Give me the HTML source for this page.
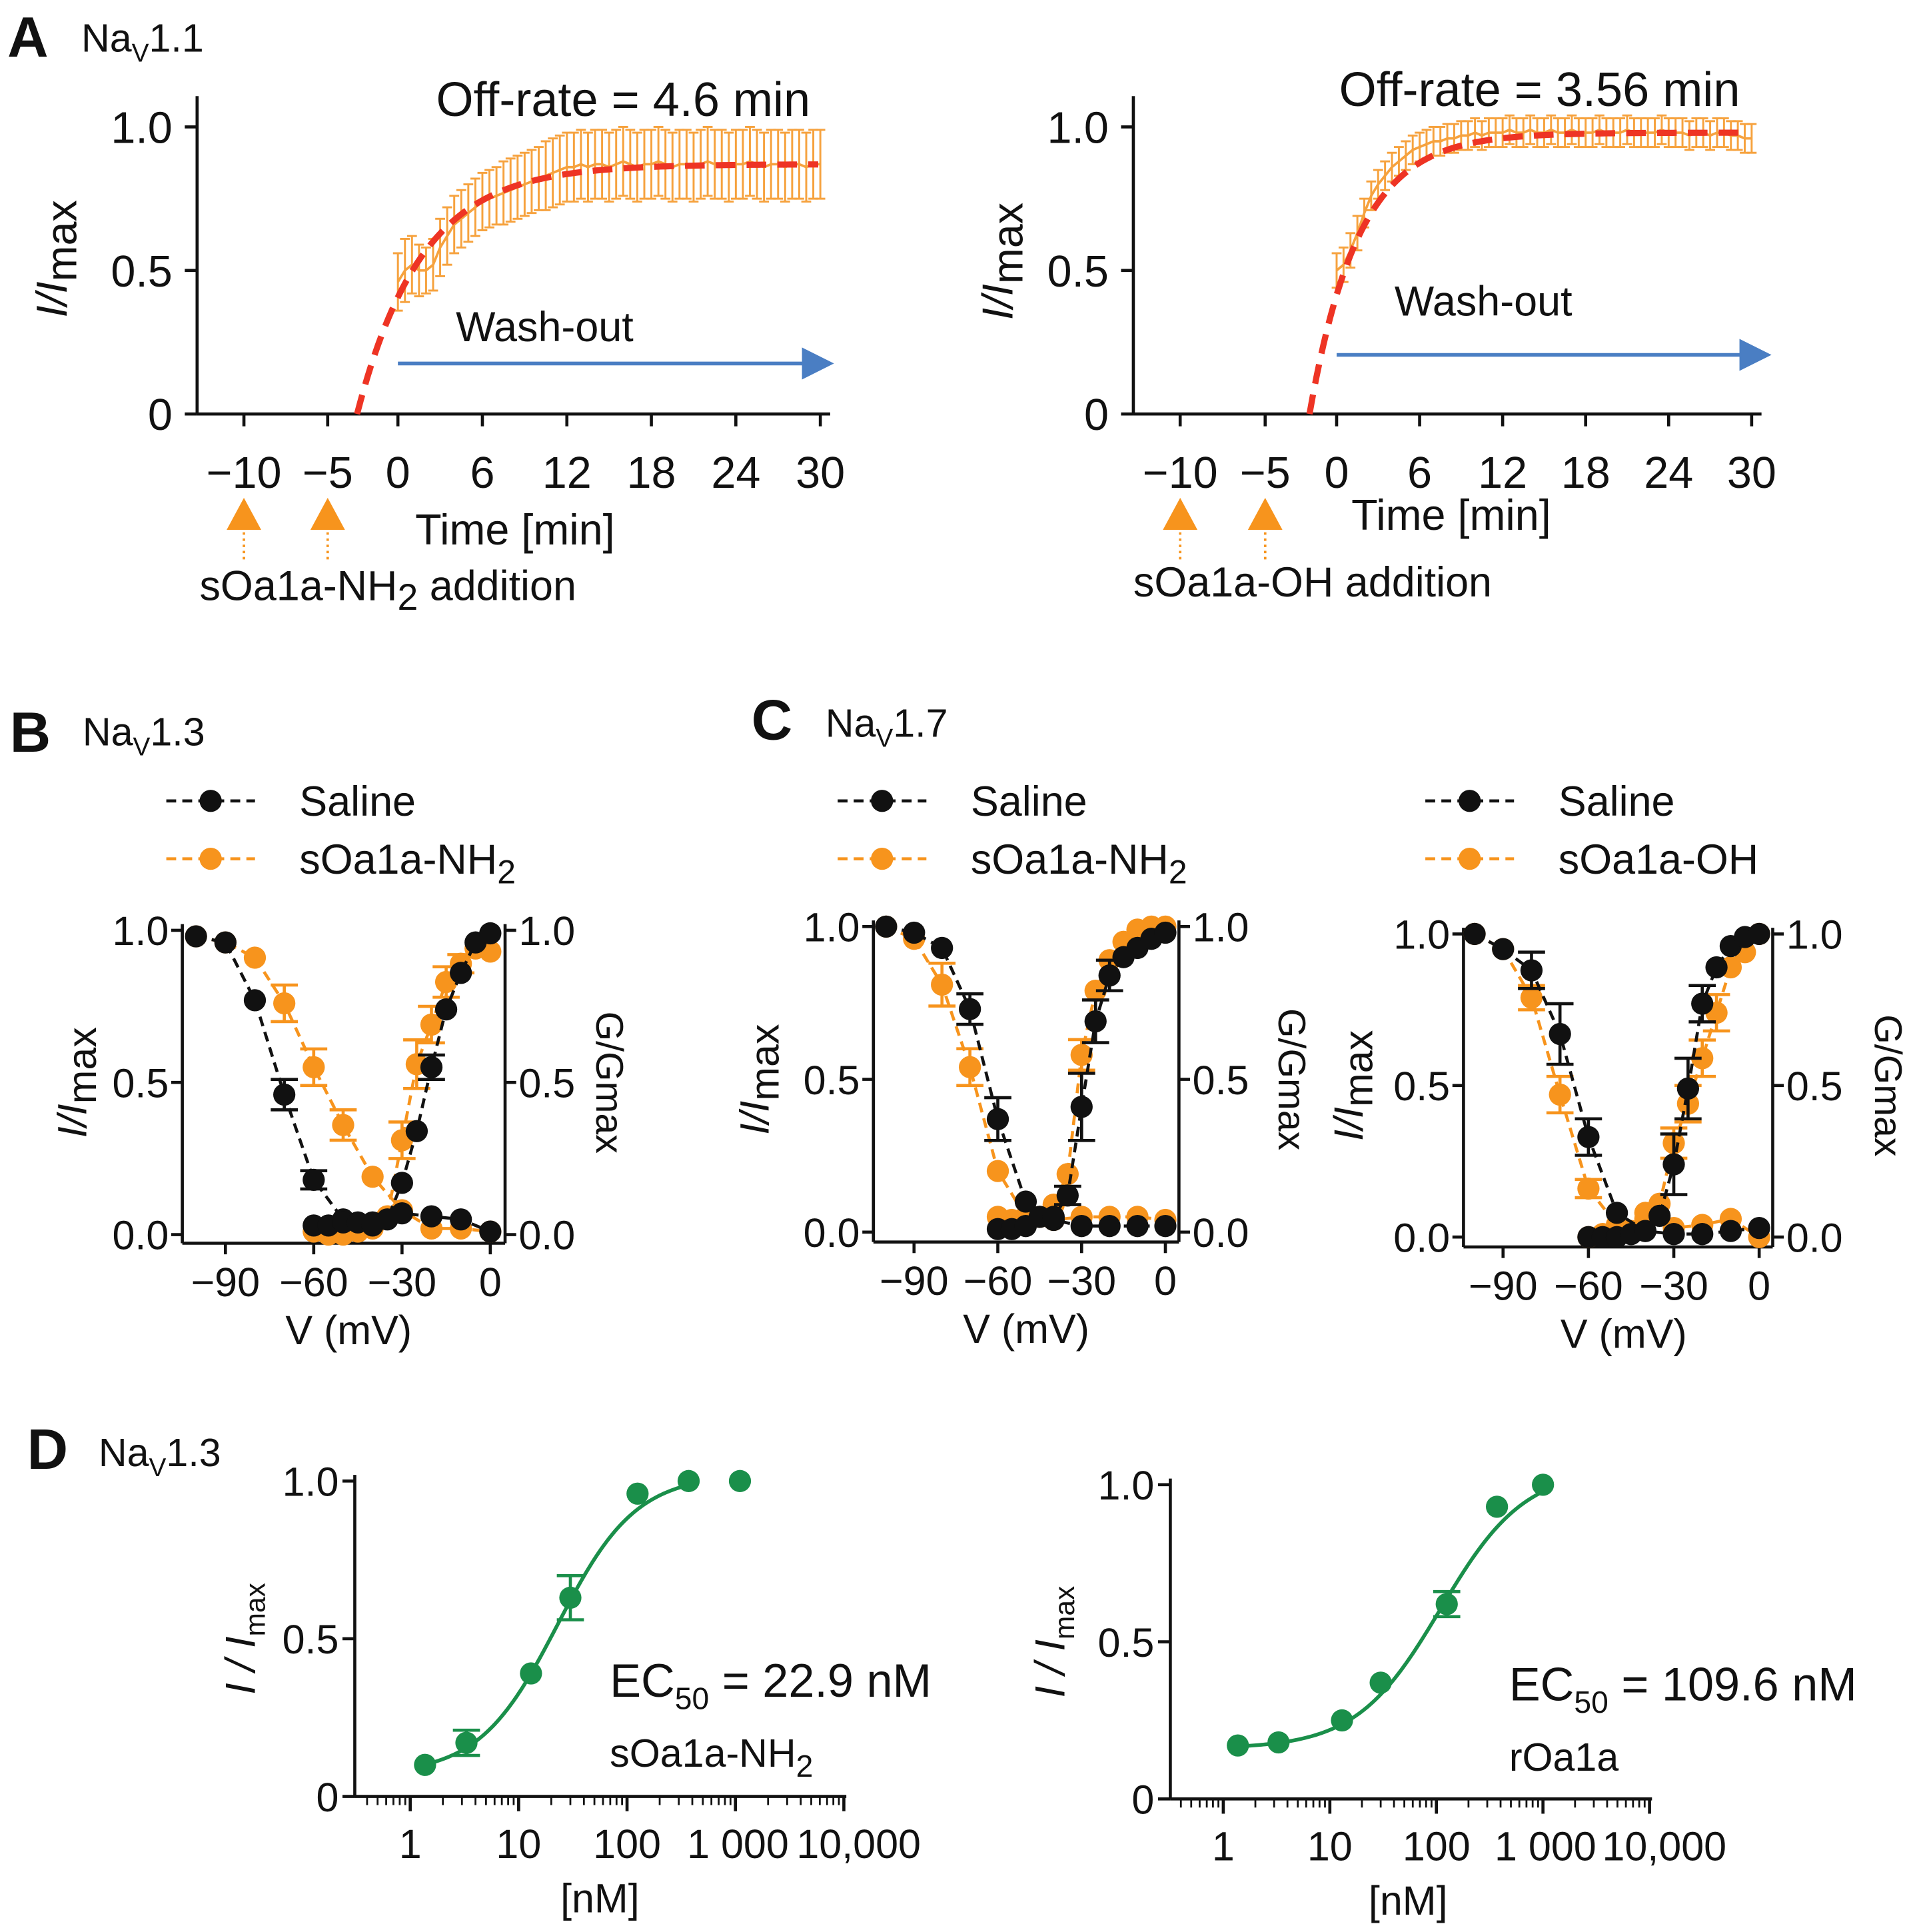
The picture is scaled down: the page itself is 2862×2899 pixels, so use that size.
<!DOCTYPE html>
<html><head><meta charset="utf-8"><style>
html,body{margin:0;padding:0;background:#fff;}
svg{display:block;font-family:"Liberation Sans",Arial,sans-serif;}
</style></head><body>
<svg id="fig" xmlns="http://www.w3.org/2000/svg" width="2862" height="2899" viewBox="0 0 1548 1568">
<rect x="0" y="0" width="1548" height="1568" fill="#fff"/>
</svg>
<script>
// ---------- Panel A data ----------
const aLeftMeans = [0.46,0.50,0.52,0.50,0.50,0.52,0.58,0.62,0.66,0.68,0.70,0.72,0.74,0.75,0.76,0.77,0.78,0.79,0.80,0.81,0.82,0.83,0.84,0.85,0.86,0.86,0.87,0.86,0.87,0.87,0.86,0.87,0.88,0.87,0.86,0.87,0.87,0.88,0.87,0.86,0.87,0.87,0.86,0.87,0.88,0.87,0.87,0.86,0.87,0.87,0.88,0.87,0.86,0.87,0.87,0.86,0.87,0.87,0.86,0.87,0.87];
const aLeftErr = [0.10,0.11,0.10,0.09,0.08,0.09,0.10,0.10,0.10,0.10,0.10,0.10,0.10,0.10,0.10,0.11,0.11,0.11,0.11,0.11,0.11,0.12,0.12,0.12,0.12,0.12,0.12,0.12,0.12,0.12,0.12,0.12,0.12,0.12,0.12,0.12,0.12,0.12,0.12,0.12,0.12,0.12,0.12,0.12,0.12,0.12,0.12,0.12,0.12,0.12,0.12,0.12,0.12,0.12,0.12,0.12,0.12,0.12,0.12,0.12,0.12];
const aRightMeans = [0.50,0.52,0.57,0.63,0.70,0.76,0.80,0.83,0.86,0.88,0.90,0.92,0.93,0.94,0.95,0.95,0.96,0.96,0.97,0.97,0.98,0.97,0.98,0.98,0.98,0.99,0.98,0.98,0.99,0.98,0.98,0.99,0.98,0.98,0.99,0.98,0.98,0.98,0.99,0.98,0.98,0.98,0.99,0.98,0.98,0.98,0.98,0.99,0.98,0.98,0.98,0.97,0.98,0.98,0.97,0.98,0.98,0.97,0.97,0.96,0.96];
const aRightErr = [0.06,0.06,0.06,0.06,0.05,0.05,0.05,0.05,0.05,0.05,0.05,0.05,0.05,0.05,0.05,0.05,0.05,0.05,0.05,0.05,0.05,0.05,0.05,0.05,0.05,0.05,0.05,0.05,0.05,0.05,0.05,0.05,0.05,0.05,0.05,0.05,0.05,0.05,0.05,0.05,0.05,0.05,0.05,0.05,0.05,0.05,0.05,0.05,0.05,0.05,0.05,0.05,0.05,0.05,0.05,0.05,0.05,0.05,0.05,0.05,0.05];
const aTimeTicks = [0,6,12,18,24,30];
const aPreTicks = [-10,-5];
const aLeftTau = 4.6, aLeftPlateau = 0.87, aLeftStart = -2.9;
const aRightTau = 3.56, aRightPlateau = 0.98, aRightStart = -1.96;

// ---------- Panels B/C data ----------
const vInact = [-100,-90,-80,-70,-60,-50,-40,-30,-20,-10,0];
const vAct = [-60,-55,-50,-45,-40,-35,-30,-25,-20,-15,-10,-5,0];
const vTicks = [-90,-60,-30,0];
const yTicksIV = [0,0.5,1];
const bBlackInact = [0.98,0.96,0.77,0.46,0.18,0.05,0.04,0.07,0.06,0.05,0.01];
const bBlackInactErr = [0,0,0,0.05,0.03,0,0,0,0,0,0];
const bBlackAct = [0.03,0.03,0.04,0.04,0.03,0.05,0.17,0.34,0.55,0.74,0.86,0.96,0.99];
const bBlackActErr = [0,0,0,0,0,0,0,0,0.04,0,0,0,0];
const bOrInact = [0.98,0.96,0.91,0.76,0.55,0.36,0.19,0.08,0.02,0.02,0.01];
const bOrInactErr = [0,0,0,0.06,0.06,0.05,0,0,0,0,0];
const bOrAct = [0.01,0,0,0.01,0.02,0.06,0.31,0.56,0.69,0.83,0.89,0.94,0.93];
const bOrActErr = [0,0,0,0,0,0,0.06,0.08,0.06,0.05,0.03,0,0];
const cBlackInact = [1.0,0.98,0.93,0.73,0.37,0.10,0.04,0.02,0.02,0.02,0.02];
const cBlackInactErr = [0,0,0,0.05,0.07,0,0,0,0,0,0];
const cBlackAct = [0.01,0.01,0.02,0.05,0.05,0.12,0.41,0.69,0.84,0.90,0.93,0.96,0.98];
const cBlackActErr = [0,0,0,0,0,0.03,0.11,0.07,0.05,0,0,0,0];
const cOrInact = [1.0,0.96,0.81,0.54,0.20,0.05,0.04,0.05,0.05,0.05,0.04];
const cOrInactErr = [0,0,0.07,0.06,0,0,0,0,0,0,0];
const cOrAct = [0.05,0.04,0.04,0.05,0.09,0.19,0.58,0.79,0.89,0.95,0.99,1.0,1.0];
const cOrActErr = [0,0,0,0,0,0,0.05,0,0,0,0,0,0];
const c2BlackInact = [1.0,0.95,0.88,0.67,0.33,0.08,0.02,0.01,0.01,0.02,0.03];
const c2BlackInactErr = [0,0,0.06,0.10,0.06,0,0,0,0,0,0];
const c2BlackAct = [0,0,0,0.01,0.02,0.07,0.24,0.49,0.77,0.89,0.96,0.99,1.0];
const c2BlackActErr = [0,0,0,0,0,0,0.10,0.10,0.06,0,0,0,0];
const c2OrInact = [1.0,0.95,0.79,0.47,0.16,0.04,0.06,0.03,0.04,0.06,0.0];
const c2OrInactErr = [0,0,0.04,0.06,0.03,0,0,0,0,0,0];
const c2OrAct = [0,0.01,0.01,0.02,0.08,0.11,0.31,0.44,0.59,0.74,0.89,0.94,1.0];
const c2OrActErr = [0,0,0,0,0,0,0.05,0.06,0.06,0.06,0,0,0];

// ---------- Panel D data ----------
const dConc = [1.37,3.3,13,30,125,370,1100];
const dLeftVals = [0.10,0.17,0.39,0.63,0.96,1.0,1.0];
const dLeftErr = [0,0.04,0,0.07,0,0,0];
const dConcR = [1.37,3.3,13,30,125,370,1000];
const dRightVals = [0.17,0.18,0.25,0.37,0.62,0.93,1.0];
const dRightErr = [0,0,0,0,0.04,0,0];
const dXTicks = [1,10,100,1000,10000];
const dXTickLabels = ["1","10","100","1 000","10,000"];
const dYTicks = [0,0.5,1];
const dYTickLabels = ["0","0.5","1.0"];
const dLeftFit = {ec50:22.9, bottom:0.07, top:1.02, hill:1.2};
const dRightFit = {ec50:109.6, bottom:0.16, top:1.05, hill:1.1};

const NS = 'http://www.w3.org/2000/svg';
const svg = document.getElementById('fig');
function mk(tag, attrs, parent){
  const e = document.createElementNS(NS, tag);
  for (const k in attrs) e.setAttribute(k, attrs[k]);
  (parent || svg).appendChild(e);
  return e;
}
function grp(name){
  const g = mk('g', {});
  
  
  return g;
}
function txt(g, x, y, s, size, anchor, extra){
  const t = mk('text', Object.assign({x:x, y:y, 'font-size':size, 'text-anchor':anchor||'start', fill:'#111'}, extra||{}), g);
  t.textContent = s;
  return t;
}
function sub(t, s, dy, size){
  const ts = mk('tspan', {dy:dy, 'font-size':size}, t);
  ts.textContent = s;
  return ts;
}
function fmtTick(v){ return v===0 ? '0.0' : v.toFixed(1); }

// ---------- Panel labels ----------
function panelLabel(letter, x, y, nameSuffix, nx, ny, sizeL){
  const g = grp('panel-' + letter.toLowerCase() + '-label');
  txt(g, x, y, letter, sizeL || 46, 'start', {'font-weight':'bold'});
  const t = txt(g, nx, ny, 'Na', 32);
  
  
  sub(t, 'V', 8, 21);
  sub(t, nameSuffix, -8, 32);
}
panelLabel('A', 6, 46, '1.1', 66, 42);
panelLabel('B', 8, 610, '1.3', 67, 605);
panelLabel('C', 610, 600, '1.7', 670, 598);
panelLabel('D', 22, 1192, '1.3', 80, 1190);

// ---------- Panel A ----------
function drawA(cfg){
  const g = grp(cfg.name);
  const xM = t => cfg.x0 + t * cfg.s;
  const xPre = t => cfg.xm10 + (t + 10) * cfg.sp;
  const yM = v => cfg.yB - v * (cfg.yB - cfg.yT);
  const ax = mk('line', {x1:cfg.axX, y1:cfg.yT-25, x2:cfg.axX, y2:cfg.yB, stroke:'#111','stroke-width':2.5}, g);
  
  
  const xa = mk('line', {x1:cfg.axX, y1:cfg.yB, x2:xM(30)+8, y2:cfg.yB, stroke:'#111','stroke-width':2.5}, g);
  
  
  [[0,'0'],[0.5,'0.5'],[1,'1.0']].forEach(p=>{
    mk('line', {x1:cfg.axX-10, y1:yM(p[0]), x2:cfg.axX, y2:yM(p[0]), stroke:'#111','stroke-width':2.5}, g);
    const t = txt(g, cfg.axX-20, yM(p[0])+13, p[1], 36, 'end');
    
    
  });
  aPreTicks.forEach(v=>{
    mk('line', {x1:xPre(v), y1:cfg.yB, x2:xPre(v), y2:cfg.yB+10, stroke:'#111','stroke-width':2.5}, g);
    const t = txt(g, xPre(v), cfg.yB+60, '\u2212' + Math.abs(v), 36, 'middle');
    
    
  });
  aTimeTicks.forEach(v=>{
    mk('line', {x1:xM(v), y1:cfg.yB, x2:xM(v), y2:cfg.yB+10, stroke:'#111','stroke-width':2.5}, g);
    const t = txt(g, xM(v), cfg.yB+60, String(v), 36, 'middle');
    
    
  });
  const yl = txt(g, 0, 0, 'I/I', 35, 'middle', {transform:'translate(' + cfg.ylX + ',' + cfg.ylY + ') rotate(-90)', 'font-style':'italic'});
  
  
  sub(yl, 'max', 8, 35).setAttribute('font-style','normal');
  const xl = txt(g, cfg.xlX, cfg.xlY, 'Time [min]', 35, 'middle');
  
  
  const eg = mk('g', {stroke:'#F6A23E','stroke-width':1.6}, g);
  
  
  cfg.means.forEach((m,i)=>{
    const t = i * 0.5, x = xM(t), e = cfg.err[i];
    mk('line', {x1:x, y1:yM(m+e), x2:x, y2:yM(m-e)}, eg);
    mk('line', {x1:x-4, y1:yM(m+e), x2:x+4, y2:yM(m+e)}, eg);
    mk('line', {x1:x-4, y1:yM(m-e), x2:x+4, y2:yM(m-e)}, eg);
  });
  const ml = cfg.means.map((m,i)=>xM(i*0.5)+','+yM(m)).join(' ');
  const mp = mk('polyline', {points:ml, fill:'none', stroke:'#F6A23E','stroke-width':2}, g);
  
  
  const pts = [];
  for (let t = cfg.start; t <= 30.0001; t += 0.25){
    const v = cfg.plateau * (1 - Math.exp(-(t - cfg.start) / cfg.tau));
    pts.push(xM(t) + ',' + yM(v));
  }
  const fit = mk('polyline', {points:pts.join(' '), fill:'none', stroke:'#EE3424','stroke-width':5,'stroke-dasharray':'16 9'}, g);
  
  
  const ti = txt(g, cfg.titleX, cfg.titleY, cfg.title, 39, 'start');
  
  
  const ar = mk('line', {x1:xM(0), y1:cfg.arY, x2:cfg.arEnd-22, y2:cfg.arY, stroke:'#4A7EC3','stroke-width':3}, g);
  
  
  mk('polygon', {points:(cfg.arEnd-26)+','+(cfg.arY-13)+' '+cfg.arEnd+','+cfg.arY+' '+(cfg.arEnd-26)+','+(cfg.arY+13), fill:'#4A7EC3'}, g);
  const wl = txt(g, cfg.woX, cfg.woY, 'Wash-out', 34, 'start');
  
  
  aPreTicks.forEach(v=>{
    const x = xPre(v);
    const tri = mk('polygon', {points:(x-14)+','+(cfg.yB+94)+' '+x+','+(cfg.yB+68)+' '+(x+14)+','+(cfg.yB+94), fill:'#F7941D'}, g);
    
    
    mk('line', {x1:x, y1:cfg.yB+96, x2:x, y2:cfg.yB+120, stroke:'#F7941D','stroke-width':2,'stroke-dasharray':'2 3'}, g);
  });
  const al = txt(g, cfg.addX, cfg.addY, cfg.addText, 34, 'start');
  
  
  if (cfg.addSub){ sub(al, '2', 8, 30); sub(al, '\u00a0addition', -8, 34); }
}
drawA({name:'panel-a-left-chart', x0:323, s:11.43, xm10:198, sp:13.6, yT:103, yB:336, axX:160,
  means:aLeftMeans, err:aLeftErr, tau:aLeftTau, plateau:aLeftPlateau, start:aLeftStart,
  ylX:54, ylY:210, xlX:418, xlY:442, title:'Off-rate = 4.6 min', titleX:354, titleY:94,
  arY:295, arEnd:677, woX:370, woY:277, addX:162, addY:487, addText:'sOa1a-NH', addSub:true});
drawA({name:'panel-a-right-chart', x0:1085, s:11.23, xm10:958, sp:13.8, yT:103, yB:336, axX:920,
  means:aRightMeans, err:aRightErr, tau:aRightTau, plateau:aRightPlateau, start:aRightStart,
  ylX:822, ylY:212, xlX:1178, xlY:430, title:'Off-rate = 3.56 min', titleX:1087, titleY:86,
  arY:288, arEnd:1438, woX:1132, woY:256, addX:920, addY:484, addText:'sOa1a-OH addition', addSub:false});

// ---------- Panels B/C ----------
const BLK = '#111', ORG = '#F7941D';
function legend(x, y, label, isNH2){
  const g = grp('legend');
  [[0, BLK, 'Saline'], [47, ORG, label]].forEach((r,i)=>{
    const e = mk('g', {}, g);
    
    
    mk('line', {x1:x, y1:y+r[0], x2:x+72, y2:y+r[0], stroke:r[1],'stroke-width':2.5,'stroke-dasharray':'8 5'}, e);
    mk('circle', {cx:x+36, cy:y+r[0], r:9, fill:r[1]}, e);
    const t = txt(e, x+108, y+r[0]+12, r[2], 34, 'start');
    if (i===1 && isNH2){ sub(t, '2', 8, 27); }
  });
}
legend(135, 650, 'sOa1a-NH', true);
legend(680, 650, 'sOa1a-NH', true);
legend(1157, 650, 'sOa1a-OH', false);

function drawIV(cfg){
  const g = grp(cfg.name);
  const xV = v => cfg.x0 + v * cfg.s;
  const yV = v => cfg.yB - v * (cfg.yB - cfg.yT);
  mk('line', {x1:cfg.left, y1:cfg.yT-5, x2:cfg.left, y2:cfg.xAxY, stroke:'#111','stroke-width':2.5}, g);
  mk('line', {x1:cfg.right, y1:cfg.yT-5, x2:cfg.right, y2:cfg.xAxY, stroke:'#111','stroke-width':2.5}, g);
  mk('line', {x1:cfg.left, y1:cfg.xAxY, x2:cfg.right, y2:cfg.xAxY, stroke:'#111','stroke-width':2.5}, g);
  yTicksIV.forEach(v=>{
    mk('line', {x1:cfg.left-9, y1:yV(v), x2:cfg.left, y2:yV(v), stroke:'#111','stroke-width':2.5}, g);
    mk('line', {x1:cfg.right, y1:yV(v), x2:cfg.right+9, y2:yV(v), stroke:'#111','stroke-width':2.5}, g);
    const a = txt(g, cfg.left-11, yV(v)+12, fmtTick(v), 33, 'end');
    
    
    const b = txt(g, cfg.right+11, yV(v)+12, fmtTick(v), 33, 'start');
    
    
  });
  vTicks.forEach(v=>{
    mk('line', {x1:xV(v), y1:cfg.xAxY, x2:xV(v), y2:cfg.xAxY+9, stroke:'#111','stroke-width':2.5}, g);
    const t = txt(g, xV(v), cfg.xAxY+43, v===0?'0':'\u2212'+Math.abs(v), 33, 'middle');
    
    
  });
  const xl = txt(g, cfg.xlX, cfg.xAxY+82, 'V (mV)', 33, 'middle');
  
  
  const ymid = (cfg.yT + cfg.yB)/2;
  const yl = txt(g, 0, 0, 'I/I', 33, 'middle', {transform:'translate('+cfg.ylX+','+ymid+') rotate(-90)','font-style':'italic'});
  
  
  sub(yl, 'max', 8, 33).setAttribute('font-style','normal');
  const yr = txt(g, 0, 0, 'G/Gmax', 31, 'middle', {transform:'translate('+cfg.yrX+','+ymid+') rotate(90)'});
  
  
  function series(vs, vals, errs, color, name){
    const sg = mk('g', {}, g);
    
    
    mk('polyline', {points:vs.map((v,i)=>xV(v)+','+yV(vals[i])).join(' '), fill:'none', stroke:color,'stroke-width':2.5,'stroke-dasharray':'8 5'}, sg);
    vs.forEach((v,i)=>{
      if (errs[i] > 0){
        const x = xV(v);
        mk('line', {x1:x, y1:yV(vals[i]+errs[i]), x2:x, y2:yV(vals[i]-errs[i]), stroke:color,'stroke-width':2.5}, sg);
        mk('line', {x1:x-11, y1:yV(vals[i]+errs[i]), x2:x+11, y2:yV(vals[i]+errs[i]), stroke:color,'stroke-width':2.5}, sg);
        mk('line', {x1:x-11, y1:yV(vals[i]-errs[i]), x2:x+11, y2:yV(vals[i]-errs[i]), stroke:color,'stroke-width':2.5}, sg);
      }
      const c = mk('circle', {cx:xV(v), cy:yV(vals[i]), r:9, fill:color}, sg);
      
      
    });
  }
  series(vInact, cfg.oi, cfg.oie, ORG, 'toxin-inactivation-series');
  series(vAct, cfg.oa, cfg.oae, ORG, 'toxin-activation-series');
  series(vInact, cfg.bi, cfg.bie, BLK, 'saline-inactivation-series');
  series(vAct, cfg.ba, cfg.bae, BLK, 'saline-activation-series');
}
drawIV({name:'panel-b-chart', x0:398, s:2.389, yT:755, yB:1002, left:148, right:410, xAxY:1009, xlX:283, ylX:70, yrX:484,
  bi:bBlackInact, bie:bBlackInactErr, ba:bBlackAct, bae:bBlackActErr, oi:bOrInact, oie:bOrInactErr, oa:bOrAct, oae:bOrActErr});
drawIV({name:'panel-c-left-chart', x0:946, s:2.267, yT:752, yB:1000, left:709, right:957, xAxY:1008, xlX:833, ylX:624, yrX:1038,
  bi:cBlackInact, bie:cBlackInactErr, ba:cBlackAct, bae:cBlackActErr, oi:cOrInact, oie:cOrInactErr, oa:cOrAct, oae:cOrActErr});
drawIV({name:'panel-c-right-chart', x0:1428, s:2.31, yT:758, yB:1004, left:1188, right:1439, xAxY:1012, xlX:1318, ylX:1106, yrX:1522,
  bi:c2BlackInact, bie:c2BlackInactErr, ba:c2BlackAct, bae:c2BlackActErr, oi:c2OrInact, oie:c2OrInactErr, oa:c2OrAct, oae:c2OrActErr});

// ---------- Panel D ----------
const GRN = '#1A8F4A';
function drawD(cfg){
  const g = grp(cfg.name);
  const xC = c => cfg.x1 + Math.log10(c) * cfg.dec;
  const yV = v => cfg.yB - v * (cfg.yB - cfg.yT);
  const xEnd = xC(10000) + 2;
  mk('line', {x1:cfg.axX, y1:cfg.yT-5, x2:cfg.axX, y2:cfg.yB, stroke:'#111','stroke-width':2.5}, g);
  mk('line', {x1:cfg.axX, y1:cfg.yB, x2:xEnd, y2:cfg.yB, stroke:'#111','stroke-width':2.5}, g);
  dYTicks.forEach((v,i)=>{
    mk('line', {x1:cfg.axX-10, y1:yV(v), x2:cfg.axX, y2:yV(v), stroke:'#111','stroke-width':2.5}, g);
    const t = txt(g, cfg.axX-13, yV(v)+12, dYTickLabels[i], 33, 'end');
    
    
  });
  for (let d = -1; d < 4; d++){
    for (let m = 1; m < 10; m++){
      const c = Math.pow(10, d) * m;
      const x = xC(c);
      if (x < cfg.axX) continue;
      const major = (m === 1);
      mk('line', {x1:x, y1:cfg.yB, x2:x, y2:cfg.yB+(major?12:7), stroke:'#111','stroke-width':major?2.5:1.5}, g);
    }
  }
  mk('line', {x1:xC(10000), y1:cfg.yB, x2:xC(10000), y2:cfg.yB+12, stroke:'#111','stroke-width':2.5}, g);
  dXTicks.forEach((c,i)=>{
    const off = (c === 10000) ? 12 : (c === 1000 ? 2 : 0);
    const t = txt(g, xC(c)+off, cfg.yB+50, dXTickLabels[i], 33, 'middle');
    
    
  });
  const xl = txt(g, cfg.xlX, cfg.yB+94, '[nM]', 33, 'middle');
  
  
  const yl = txt(g, 0, 0, 'I / I', 34, 'middle', {transform:'translate('+cfg.ylX+','+((cfg.yT+cfg.yB)/2)+') rotate(-90)','font-style':'italic'});
  
  
  sub(yl, 'max', 8, 23).setAttribute('font-style','normal');
  const f = cfg.fit, pts = [];
  for (let lc = Math.log10(cfg.conc[0]); lc <= Math.log10(cfg.fitEnd); lc += 0.02){
    const c = Math.pow(10, lc);
    const v = f.bottom + (f.top - f.bottom) / (1 + Math.pow(f.ec50 / c, f.hill));
    pts.push(xC(c)+','+yV(Math.min(v, 1.0)));
  }
  const fl = mk('polyline', {points:pts.join(' '), fill:'none', stroke:GRN,'stroke-width':3}, g);
  
  
  cfg.conc.forEach((c,i)=>{
    const x = xC(c), v = cfg.vals[i], e = cfg.err[i];
    if (e > 0){
      mk('line', {x1:x, y1:yV(v+e), x2:x, y2:yV(v-e), stroke:GRN,'stroke-width':2.5}, g);
      mk('line', {x1:x-11, y1:yV(v+e), x2:x+11, y2:yV(v+e), stroke:GRN,'stroke-width':2.5}, g);
      mk('line', {x1:x-11, y1:yV(v-e), x2:x+11, y2:yV(v-e), stroke:GRN,'stroke-width':2.5}, g);
    }
    const p = mk('circle', {cx:x, cy:yV(v), r:9, fill:GRN}, g);
    
    
  });
  const ec = txt(g, cfg.ecX, cfg.ecY, 'EC', 38, 'start');
  
  
  sub(ec, '50', 10, 25);
  sub(ec, ' = ' + cfg.ecText, -10, 38);
  const cl = txt(g, cfg.ecX, cfg.ecY+57, cfg.cmp, 32, 'start');
  
  
  if (cfg.cmpSub) sub(cl, '2', 8, 25);
}
drawD({name:'panel-d-left-chart', x1:333, dec:88, yT:1202, yB:1458, axX:288, conc:dConc, vals:dLeftVals, err:dLeftErr,
  fit:dLeftFit, fitEnd:370, xlX:487, ylX:207, ecX:495, ecY:1377, ecText:'22.9 nM', cmp:'sOa1a-NH', cmpSub:true});
drawD({name:'panel-d-right-chart', x1:993, dec:86.5, yT:1205, yB:1460, axX:950, conc:dConcR, vals:dRightVals, err:dRightErr,
  fit:dRightFit, fitEnd:1000, xlX:1143, ylX:864, ecX:1225, ecY:1380, ecText:'109.6 nM', cmp:'rOa1a', cmpSub:false});
</script>
</body></html>
